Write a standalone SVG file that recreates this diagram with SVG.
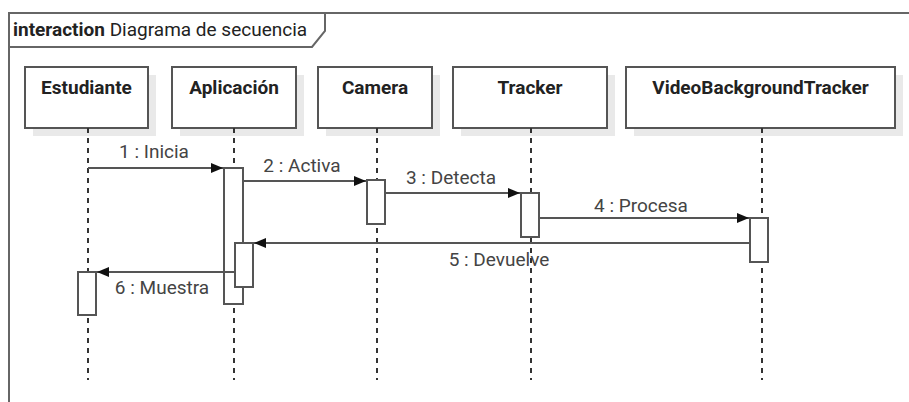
<svg xmlns="http://www.w3.org/2000/svg" width="909" height="402" viewBox="0 0 909 402">
  <defs>
    <marker id="arrow" viewBox="0 0 12 10" refX="12" refY="5" markerWidth="12" markerHeight="10" markerUnits="userSpaceOnUse" orient="auto">
      <path d="M0,0 L12,5 L0,10 Z" fill="#111"/>
    </marker>
  </defs>
  <style>
    .frame { fill: none; stroke: #666; stroke-width: 2; }
    .box { fill: #fff; stroke: #555; stroke-width: 2; }
    .shadow { fill: #e9e9e9; }
    .life { stroke: #333; stroke-width: 2; stroke-dasharray: 5 5; fill: none; }
    .act { fill: #fff; stroke: #555; stroke-width: 2; }
    .msg { stroke: #555; stroke-width: 2; fill: none; marker-end: url(#arrow); }
    .name { font-family: Roboto, "Liberation Sans", Arial, sans-serif; font-size: 19px; font-weight: bold; fill: #222; text-anchor: middle; }
    .lbl { font-family: Roboto, "Liberation Sans", Arial, sans-serif; font-size: 19px; fill: #444; text-anchor: middle; }
    .title { font-family: Roboto, "Liberation Sans", Arial, sans-serif; font-size: 19px; fill: #222; }
  </style>
  <rect width="909" height="402" fill="#fff"/>

  <!-- interaction frame with its name tab -->
  <g id="frame">
    <path class="frame" d="M9,402 V13 H909"/>
    <path class="frame" d="M9,47 H312 L325,31 V13"/>
    <text class="title" x="13" y="36"><tspan font-weight="bold">interaction</tspan> Diagrama de secuencia</text>
  </g>

  <!-- lifelines -->
  <g id="estudiante">
    <rect class="shadow" x="33" y="75" width="123" height="61"/>
    <rect class="box" x="25" y="67" width="123" height="61"/>
    <text class="name" x="86.5" y="94">Estudiante</text>
    <line class="life" x1="88" y1="128" x2="88" y2="380"/>
  </g>
  <g id="aplicacion">
    <rect class="shadow" x="180" y="75" width="124" height="61"/>
    <rect class="box" x="172" y="67" width="124" height="61"/>
    <text class="name" x="234" y="94">Aplicación</text>
    <line class="life" x1="234" y1="128" x2="234" y2="380"/>
  </g>
  <g id="camera">
    <rect class="shadow" x="326" y="75" width="114" height="61"/>
    <rect class="box" x="318" y="67" width="114" height="61"/>
    <text class="name" x="375" y="94">Camera</text>
    <line class="life" x1="377" y1="128" x2="377" y2="380"/>
  </g>
  <g id="tracker">
    <rect class="shadow" x="461" y="75" width="154" height="61"/>
    <rect class="box" x="453" y="67" width="154" height="61"/>
    <text class="name" x="530" y="94">Tracker</text>
    <line class="life" x1="531" y1="128" x2="531" y2="380"/>
  </g>
  <g id="videobackgroundtracker">
    <rect class="shadow" x="634" y="75" width="269" height="61"/>
    <rect class="box" x="626" y="67" width="269" height="61"/>
    <text class="name" x="760.5" y="94">VideoBackgroundTracker</text>
    <line class="life" x1="762" y1="128" x2="762" y2="380"/>
  </g>

  <!-- execution specifications -->
  <g id="activations">
    <rect class="act" x="224" y="168" width="19" height="136"/>
    <rect class="act" x="235" y="243" width="18" height="44"/>
    <rect class="act" x="367" y="180" width="18" height="44"/>
    <rect class="act" x="521" y="193" width="18" height="44"/>
    <rect class="act" x="750" y="218" width="18" height="44"/>
    <rect class="act" x="78" y="272" width="18" height="43"/>
  </g>

  <!-- messages -->
  <g id="connectors">
    <line class="msg" x1="88" y1="168" x2="223" y2="168"/>
    <text class="lbl" x="154" y="158">1 : Inicia</text>
    <line class="msg" x1="243" y1="181" x2="366" y2="181"/>
    <text class="lbl" x="302" y="172">2 : Activa</text>
    <line class="msg" x1="385" y1="193" x2="520" y2="193"/>
    <text class="lbl" x="451" y="184">3 : Detecta</text>
    <line class="msg" x1="539" y1="218" x2="749" y2="218"/>
    <text class="lbl" x="641" y="212">4 : Procesa</text>
    <line class="msg" x1="750" y1="243" x2="254" y2="243"/>
    <text class="lbl" x="499" y="266">5 : Devuelve</text>
    <line class="msg" x1="235" y1="272" x2="97" y2="272"/>
    <text class="lbl" x="162" y="294">6 : Muestra</text>
  </g>
</svg>
